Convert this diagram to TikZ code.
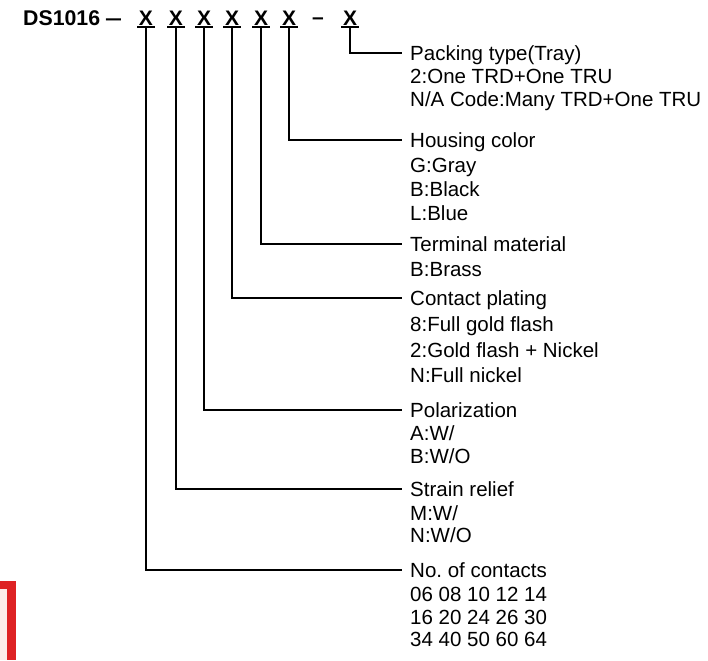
\documentclass[tikz,border=0pt]{standalone}
\usepackage{fontspec}
\setmainfont{Liberation Sans}
\definecolor{redc}{RGB}{222,34,36}
\definecolor{pinkc}{RGB}{252,236,234}
\frenchspacing
\begin{document}
\begin{tikzpicture}[x=1pt,y=-1pt,
  conn/.style={line width=1.8pt, black},
  xmark/.style={font=\fontsize{21}{21}\selectfont\bfseries, inner xsep=0.5pt, inner ysep=1.5pt, text height=15pt, text depth=0pt},
  title/.style={anchor=west, font=\fontsize{20.5}{21}\selectfont, inner xsep=8pt, inner ysep=0pt, text height=14.6pt, text depth=0pt}]
\useasboundingbox (0,0) rectangle (708,660);
% red corner
\fill[redc] (0,581) rectangle (16,589);
\fill[redc] (7,581) rectangle (16,660);
\fill[pinkc] (0,589) rectangle (7,660);
% header
\node[anchor=base west, font=\fontsize{21.3}{21}\selectfont\bfseries, inner sep=0pt] (pn) at (23,26) {DS1016};
\node[anchor=base west, font=\fontsize{21}{21}\selectfont\bfseries, inner sep=0pt] (pd) at (105,26) {\scalebox{1.45}[1]{–}};
\node[xmark] (x1) at (146,18) {X};
\node[xmark] (x2) at (176,18) {X};
\node[xmark] (x3) at (204,18) {X};
\node[xmark] (x4) at (232,18) {X};
\node[xmark] (x5) at (261,18) {X};
\node[xmark] (x6) at (289,18) {X};
\node[anchor=base, font=\fontsize{21}{21}\selectfont\bfseries, inner sep=0pt] (md) at (318,25) {–};
\node[xmark] (x7) at (350,18) {X};
\foreach \n in {x1,x2,x3,x4,x5,x6,x7}
  \draw[conn, line width=2pt] ([xshift=-1pt]\n.south west) -- ([xshift=1pt]\n.south east);
% labels
\node[title] (t1) at (402,53) {Packing type(Tray)};
\node[title] (t1a) at (402,76) {2:One TRD+One TRU};
\node[title] (t1b) at (402,99) {N/A Code:Many TRD+One TRU};
\node[title] (t2) at (402,140) {Housing color};
\node[title] (t2a) at (402,165) {G:Gray};
\node[title] (t2b) at (402,189) {B:Black};
\node[title] (t2c) at (402,213) {L:Blue};
\node[title] (t3) at (402,244) {Terminal material};
\node[title] (t3a) at (402,269) {B:Brass};
\node[title] (t4) at (402,298) {Contact plating};
\node[title] (t4a) at (402,324) {8:Full gold flash};
\node[title] (t4b) at (402,350) {2:Gold flash + Nickel};
\node[title] (t4c) at (402,375) {N:Full nickel};
\node[title] (t5) at (402,410) {Polarization};
\node[title] (t5a) at (402,433) {A:W/};
\node[title] (t5b) at (402,456) {B:W/O};
\node[title] (t6) at (402,489) {Strain relief};
\node[title] (t6a) at (402,513) {M:W/};
\node[title] (t6b) at (402,535) {N:W/O};
\node[title] (t7) at (402,570) {No.\ of contacts};
\node[title] (t7a) at (402,594) {06 08 10 12 14};
\node[title] (t7b) at (402,617) {16 20 24 26 30};
\node[title] (t7c) at (402,639) {34 40 50 60 64};
% connectors
\draw[conn] (x7.south) |- (t1.west);
\draw[conn] (x6.south) |- (t2.west);
\draw[conn] (x5.south) |- (t3.west);
\draw[conn] (x4.south) |- (t4.west);
\draw[conn] (x3.south) |- (t5.west);
\draw[conn] (x2.south) |- (t6.west);
\draw[conn] (x1.south) |- (t7.west);
\end{tikzpicture}
\end{document}
